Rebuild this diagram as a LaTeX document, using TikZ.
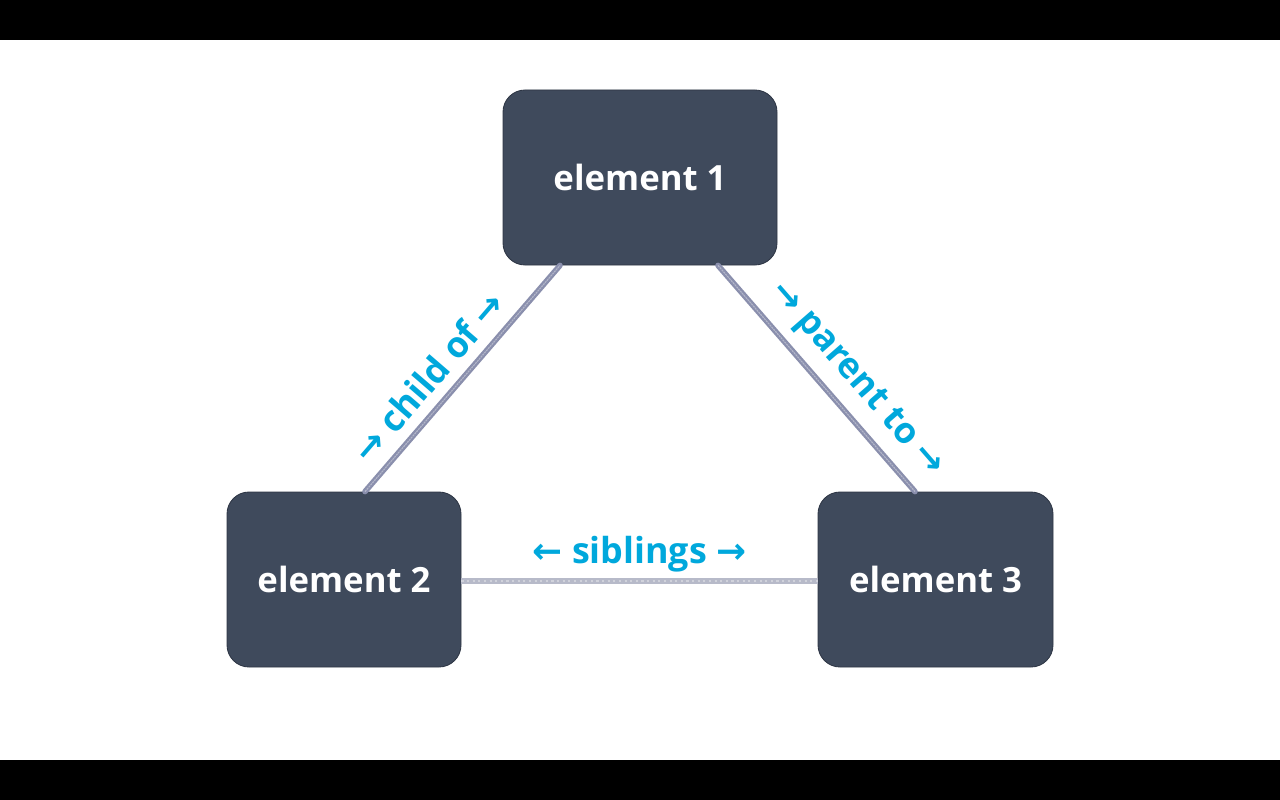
\documentclass[tikz,border=0pt]{standalone}
\usepackage{fontspec}
\setmainfont{Open Sans}
\newfontfamily\arrowfont{DejaVu Sans}
\usetikzlibrary{calc}
\definecolor{boxfill}{HTML}{3F4A5C}
\definecolor{boxedge}{HTML}{2E3645}
\definecolor{labcyan}{HTML}{00A8DC}
\definecolor{linedark}{HTML}{8A8FAD}
\definecolor{linelight}{HTML}{B7BAC9}
\newcommand{\ra}{{\arrowfont\bfseries →}}
\newcommand{\la}{{\arrowfont\bfseries ←}}
\begin{document}
\begin{tikzpicture}[x=0.025cm,y=-0.025cm,
  elbox/.style={fill=boxfill,draw=boxedge,line width=0.6pt,rounded corners=0.55cm,
    minimum height=175*0.025cm,text=white,font=\fontsize{24.7}{28}\selectfont\bfseries,inner sep=0pt},
  conn/.style={line width=4pt,line cap=round},
  grain/.style={white,opacity=0.35,line width=0.8pt,dash pattern=on 1.5pt off 2.5pt},
  lab/.style={text=labcyan,font=\fontsize{25.5}{29}\selectfont\bfseries,inner sep=0pt,anchor=center}]
\useasboundingbox (0,0) rectangle (1280,800);
\fill[black] (0,0) rectangle (1280,40);
\fill[black] (0,760) rectangle (1280,800);
\fill[white] (0,40) rectangle (1280,760);
% boxes
\node[elbox,minimum width=274*0.025cm] (e1) at (640,177.5) {element 1};
\node[elbox,minimum width=234*0.025cm] (e2) at (344,579.5) {element 2};
\node[elbox,minimum width=235*0.025cm] (e3) at (935.5,579.5) {element 3};
% connectors
\coordinate (a1) at ([xshift=21*0.025cm]e2.north);
\coordinate (b1) at ([xshift=-80*0.025cm]e1.south);
\coordinate (a2) at ([xshift=78*0.025cm]e1.south);
\coordinate (b2) at ([xshift=-20.5*0.025cm]e3.north);
\coordinate (a3) at ([yshift=-1.5*0.025cm]e2.east);
\coordinate (b3) at ([yshift=-1.5*0.025cm]e3.west);
\draw[conn,linedark] (a1) -- node[lab,sloped,pos=0.43,yshift=27*0.025cm] (l1) {\ra\ child of \ra} (b1);
\draw[grain] (a1) -- (b1);
\draw[grain,dash phase=2pt,yshift=0.6pt] (a1) -- (b1);
\draw[conn,linedark] (a2) -- node[lab,sloped,pos=0.59,yshift=29*0.025cm] (l2) {\ra\ parent to \ra} (b2);
\draw[grain] (a2) -- (b2);
\draw[grain,dash phase=2pt,yshift=0.6pt] (a2) -- (b2);
\draw[conn,linelight,line cap=butt] (a3) -- node[lab,yshift=27*0.025cm] (l3) {\la\ siblings \ra} (b3);
\draw[grain] (a3) -- (b3);
\end{tikzpicture}
\end{document}
